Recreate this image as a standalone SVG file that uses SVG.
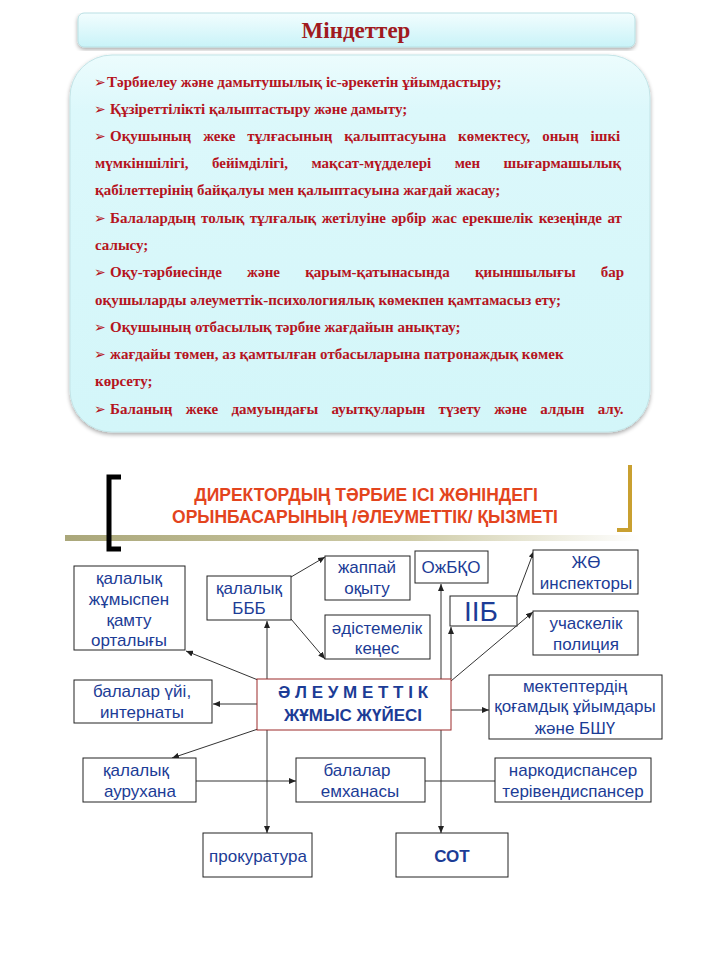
<svg xmlns="http://www.w3.org/2000/svg" width="720" height="960" viewBox="0 0 720 960">
<defs>
<linearGradient id="gTitle" x1="0" y1="0" x2="0" y2="1"><stop offset="0" stop-color="#f2fdfe"/><stop offset="1" stop-color="#c9f3f8"/></linearGradient>
<linearGradient id="gBox" x1="0" y1="0" x2="0" y2="1"><stop offset="0" stop-color="#ecfcfd"/><stop offset="0.15" stop-color="#dcf8fb"/><stop offset="1" stop-color="#d3f6f9"/></linearGradient>
<linearGradient id="gBar" x1="0" y1="0" x2="1" y2="0"><stop offset="0" stop-color="#aaa77a"/><stop offset="0.6" stop-color="#cfcca8"/><stop offset="1" stop-color="#ffffff"/></linearGradient>
<filter id="sh" x="-5%" y="-5%" width="110%" height="115%"><feGaussianBlur in="SourceAlpha" stdDeviation="2"/><feOffset dy="2"/><feComponentTransfer><feFuncA type="linear" slope="0.35"/></feComponentTransfer><feMerge><feMergeNode/><feMergeNode in="SourceGraphic"/></feMerge></filter>
<marker id="ar" markerUnits="userSpaceOnUse" markerWidth="7" markerHeight="6" refX="7" refY="3" orient="auto"><path d="M0,0 L7,3 L0,6 z" fill="#222"/></marker>
</defs>
<style>
.t{font-family:"Liberation Serif","DejaVu Serif",serif;font-weight:bold;font-size:15px;fill:#b5141e}
.b{font-family:"DejaVu Sans",sans-serif;font-size:14px;font-weight:bold}
.n rect{fill:#fff;stroke:#222;stroke-width:1}
.n text{font-family:"Liberation Sans",Arial,sans-serif;font-size:17px;fill:#1c3c96;text-anchor:middle}
.c line{stroke:#333;stroke-width:1}
.h{font-family:"Liberation Sans",Arial,sans-serif;font-weight:bold;font-size:17.5px;fill:#e3441d;text-anchor:middle}
</style>
<rect width="720" height="960" fill="#fff"/>

<g id="title">
<rect x="78" y="13" width="557" height="34" rx="6" fill="url(#gTitle)" stroke="#b9dfe3" filter="url(#sh)"/>
<text x="356" y="38" text-anchor="middle" font-family="Liberation Serif,serif" font-weight="bold" font-size="23" fill="#a01a1e">Міндеттер</text>
</g>

<g id="tasks">
<rect x="70" y="55" width="580" height="377" rx="42" fill="url(#gBox)" stroke="#c3e4e7" filter="url(#sh)"/>
<text class="t" y="87"><tspan class="b" x="94">➢</tspan><tspan x="107">Тәрбиелеу және дамытушылық іс-әрекетін ұйымдастыру;</tspan></text>
<text class="t" y="114"><tspan class="b" x="94">➢</tspan><tspan x="110">Құзіреттілікті қалыптастыру және дамыту;</tspan></text>
<text class="t" y="141"><tspan class="b" x="94">➢</tspan><tspan x="110" word-spacing="8.2">Оқушының жеке тұлғасының қалыптасуына көмектесу, оның ішкі</tspan></text>
<text class="t" y="168" x="95" word-spacing="19.7">мүмкіншілігі, бейімділігі, мақсат-мүдделері мен шығармашылық</text>
<text class="t" y="195" x="95">қабілеттерінің байқалуы мен қалыптасуына жағдай жасау;</text>
<text class="t" y="223"><tspan class="b" x="94">➢</tspan><tspan x="110" word-spacing="1.7">Балалардың толық тұлғалық жетілуіне әрбір жас ерекшелік кезеңінде ат</tspan></text>
<text class="t" y="250" x="95">салысу;</text>
<text class="t" y="277"><tspan class="b" x="94">➢</tspan><tspan x="110" word-spacing="21.5">Оқу-тәрбиесінде және қарым-қатынасында қиыншылығы бар</tspan></text>
<text class="t" y="305" x="95">оқушыларды әлеуметтік-психологиялық көмекпен қамтамасыз ету;</text>
<text class="t" y="332"><tspan class="b" x="94">➢</tspan><tspan x="110">Оқушының отбасылық тәрбие жағдайын анықтау;</tspan></text>
<text class="t" y="359"><tspan class="b" x="94">➢</tspan><tspan x="110">жағдайы төмен, аз қамтылған отбасыларына патронаждық көмек</tspan></text>
<text class="t" y="386" x="95">көрсету;</text>
<text class="t" y="414"><tspan class="b" x="94">➢</tspan><tspan x="110" word-spacing="9.6">Баланың жеке дамуындағы ауытқуларын түзету және алдын алу.</tspan></text>
</g>

<g id="header">
<rect x="65" y="535" width="575" height="6" fill="url(#gBar)"/>
<path d="M121,477 H109 V549 H121" fill="none" stroke="#000" stroke-width="5"/>
<path d="M630,465 V530 H617" fill="none" stroke="#c9a030" stroke-width="4"/>
<text class="h" x="366" y="501">ДИРЕКТОРДЫҢ  ТӘРБИЕ ІСІ ЖӨНІНДЕГІ</text>
<text class="h" x="365" y="523">ОРЫНБАСАРЫНЫҢ  /ӘЛЕУМЕТТІК/  ҚЫЗМЕТІ</text>
</g>

<g id="connectors" class="c">
<line x1="258" y1="680" x2="186" y2="651" marker-end="url(#ar)"/>
<line x1="267" y1="679" x2="267" y2="621" marker-end="url(#ar)"/>
<line x1="291" y1="577" x2="325" y2="557" marker-end="url(#ar)"/>
<line x1="291" y1="619" x2="325" y2="659" marker-end="url(#ar)"/>
<line x1="441" y1="679" x2="441" y2="584" marker-end="url(#ar)"/>
<line x1="451" y1="679" x2="451" y2="627" marker-end="url(#ar)"/>
<line x1="517" y1="596" x2="534" y2="551" marker-end="url(#ar)"/>
<line x1="451" y1="681" x2="533" y2="612" marker-end="url(#ar)"/>
<line x1="258" y1="704" x2="213" y2="704" marker-end="url(#ar)"/>
<line x1="451" y1="710" x2="489" y2="710" marker-end="url(#ar)"/>
<line x1="258" y1="729" x2="172" y2="758" marker-end="url(#ar)"/>
<line x1="196" y1="781" x2="296" y2="781" marker-end="url(#ar)"/>
<line x1="495" y1="781" x2="425" y2="781"/>
<line x1="267" y1="730" x2="267" y2="833" marker-end="url(#ar)"/>
<line x1="441" y1="730" x2="441" y2="833" marker-end="url(#ar)"/>
</g>

<g id="n-kamtu" class="n"><rect x="74" y="566" width="111" height="84"/>
<text x="129" y="584">қалалық</text><text x="129" y="605">жұмыспен</text><text x="129" y="626">қамту</text><text x="129" y="646">орталығы</text></g>
<g id="n-bbb" class="n"><rect x="207" y="576" width="84" height="44"/>
<text x="249" y="594">қалалық</text><text x="249" y="614">БББ</text></g>
<g id="n-zhappai" class="n"><rect x="325" y="556" width="85" height="44"/>
<text x="367" y="573">жаппай</text><text x="367" y="594">оқыту</text></g>
<g id="n-adist" class="n"><rect x="325" y="615" width="105" height="44"/>
<text x="377" y="634">әдістемелік</text><text x="377" y="654">кеңес</text></g>
<g id="n-ozhbko" class="n"><rect x="415" y="551" width="73" height="32"/>
<text x="451" y="573">ОжБҚО</text></g>
<g id="n-iib" class="n"><rect x="450" y="596" width="67" height="30"/>
<text x="481" y="621" style="font-size:28px">ІІБ</text></g>
<g id="n-zho" class="n"><rect x="533" y="550" width="105" height="44"/>
<text x="586" y="568">ЖӨ</text><text x="586" y="589">инспекторы</text></g>
<g id="n-polis" class="n"><rect x="533" y="611" width="105" height="44"/>
<text x="586" y="629">учаскелік</text><text x="586" y="650">полиция</text></g>
<g id="n-center" class="n"><rect x="257" y="679" width="194" height="51" style="stroke:#9c2a2a"/>
<text x="353" y="698" font-weight="bold">Ә Л Е У М Е Т Т І К</text><text x="353" y="721" font-weight="bold">ЖҰМЫС ЖҮЙЕСІ</text></g>
<g id="n-baluyi" class="n"><rect x="74" y="680" width="138" height="43"/>
<text x="142" y="697">балалар  үйі,</text><text x="142" y="718">интернаты</text></g>
<g id="n-mektep" class="n"><rect x="489" y="675" width="173" height="64"/>
<text x="575" y="692">мектептердің</text><text x="575" y="712">қоғамдық ұйымдары</text><text x="575" y="734">және БШҮ</text></g>
<g id="n-aurukhana" class="n"><rect x="83" y="758" width="113" height="44"/>
<text x="136" y="776">қалалық</text><text x="140" y="797">аурухана</text></g>
<g id="n-emkhana" class="n"><rect x="296" y="758" width="129" height="44"/>
<text x="357" y="776">балалар</text><text x="360" y="797">емханасы</text></g>
<g id="n-narko" class="n"><rect x="495" y="758" width="156" height="44"/>
<text x="573" y="776">наркодиспансер</text><text x="573" y="797">терівендиспансер</text></g>
<g id="n-prok" class="n"><rect x="203" y="833" width="109" height="44"/>
<text x="258" y="862">прокуратура</text></g>
<g id="n-sot" class="n"><rect x="396" y="833" width="112" height="44"/>
<text x="452" y="862" font-weight="bold">СОТ</text></g>
</svg>
